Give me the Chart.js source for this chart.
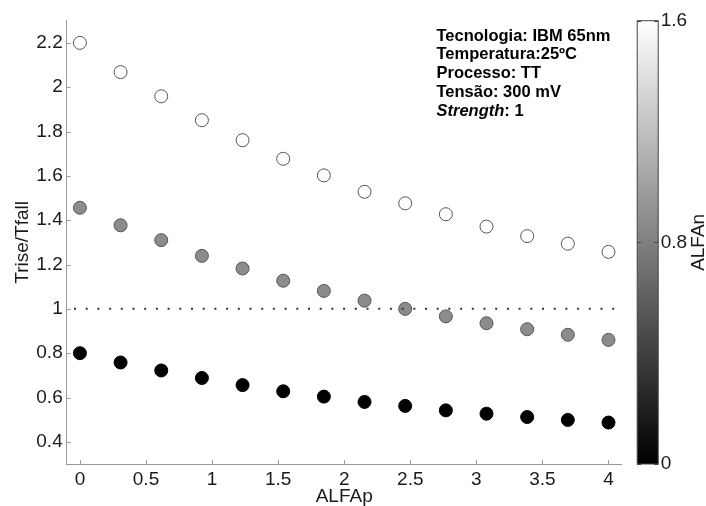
<!DOCTYPE html>
<html>
<head>
<meta charset="utf-8">
<script src="https://cdn.jsdelivr.net/npm/chart.js@4"></script>
<style>
  html, body { margin: 0; padding: 0; background: #fff; }
  #wrap { width: 706px; height: 506px; }
</style>
</head>
<body>
<div id="wrap"><canvas id="grafico" width="706" height="506"></canvas></div>
<script>
// --- dados ---
const alfaP = [0, 0.3077, 0.6154, 0.9231, 1.2308, 1.5385, 1.8462, 2.1538, 2.4615, 2.7692, 3.0769, 3.3846, 3.6923, 4.0];
const ratioAlfaN16 = [2.20, 2.068, 1.959, 1.851, 1.761, 1.677, 1.602, 1.528, 1.476, 1.427, 1.371, 1.328, 1.294, 1.257];
const ratioAlfaN08 = [1.456, 1.377, 1.310, 1.239, 1.182, 1.127, 1.081, 1.037, 1.000, 0.966, 0.935, 0.908, 0.883, 0.860];
const ratioAlfaN0 = [0.800, 0.758, 0.722, 0.688, 0.656, 0.628, 0.604, 0.580, 0.562, 0.542, 0.527, 0.512, 0.499, 0.487];
const alfaNValues = [1.6, 0.8, 0];
const refX = [-0.1, 4.05];
const refY = 1;

const xTicks = [0, 0.5, 1, 1.5, 2, 2.5, 3, 3.5, 4];
const yTicks = [0.4, 0.6, 0.8, 1, 1.2, 1.4, 1.6, 1.8, 2, 2.2];
const barTicks = [0, 0.8, 1.6];

const infoLinhas = ['Tecnologia: IBM 65nm', 'Temperatura:25ºC', 'Processo: TT', 'Tensão: 300 mV'];
const infoStrength = ['Strength', ': 1'];

const FONTE = 'Arial, "Liberation Sans", sans-serif';
const corTexto = '#1a1a1a';
const corEixo = '#9a9a9a';
const TAM = 19;

Chart.defaults.font.family = FONTE;
Chart.defaults.color = corTexto;

// cor da escala de cinza (0 = preto, 1.6 = branco)
function corAlfaN(v) {
    const g = Math.round(255 * v / 1.6);
    return `rgb(${g},${g},${g})`;
}

function montarPontos(ys) {
    return alfaP.map((x, i) => ({ x: x, y: ys[i] }));
}

const formatar = v => String(+(+v).toFixed(2));

const series = [ratioAlfaN16, ratioAlfaN08, ratioAlfaN0];
const datasets = [{
    label: 'ref',
    data: refX.map(x => ({ x: x, y: refY })),
    showLine: true,
    borderColor: '#333',
    borderWidth: 2,
    borderDash: [2, 9.7],
    borderDashOffset: 4.4,
    pointRadius: 0,
    fill: false
}];
series.forEach((ys, i) => {
    const cor = corAlfaN(alfaNValues[i]);
    datasets.push({
        label: 'ALFAn=' + alfaNValues[i],
        data: montarPontos(ys),
        backgroundColor: alfaNValues[i] === 0.8 ? '#8c8c8c' : cor,
        borderColor: alfaNValues[i] === 0 ? '#000' : '#555',
        borderWidth: 1,
        pointRadius: 6.5
    });
});

// ticks internos, barra de cores e texto informativo
const extras = {
    id: 'extras',
    afterDraw(chart) {
        const c = chart.ctx;
        const area = chart.chartArea;
        const sx = chart.scales.x, sy = chart.scales.y, sb = chart.scales.y2;

        c.save();
        c.strokeStyle = corEixo;
        c.lineWidth = 1;
        c.beginPath();
        xTicks.forEach(v => {
            const px = Math.round(sx.getPixelForValue(v)) + 0.5;
            c.moveTo(px, area.bottom);
            c.lineTo(px, area.bottom - 4);
        });
        yTicks.forEach(v => {
            const py = Math.round(sy.getPixelForValue(v)) + 0.5;
            c.moveTo(area.left, py);
            c.lineTo(area.left + 4, py);
        });
        c.stroke();

        // barra de cores
        const bx = area.right + 15.5, bw = 21;
        const top = sb.getPixelForValue(1.6), bot = sb.getPixelForValue(0);
        const grad = c.createLinearGradient(0, bot, 0, top);
        grad.addColorStop(0, corAlfaN(0));
        grad.addColorStop(1, corAlfaN(1.6));
        c.fillStyle = grad;
        c.fillRect(bx, top, bw, bot - top);
        c.strokeStyle = '#444';
        c.strokeRect(bx, top, bw, bot - top);
        c.beginPath();
        barTicks.forEach(v => {
            const py = Math.round(sb.getPixelForValue(v)) + 0.5;
            c.moveTo(bx, py); c.lineTo(bx + 4, py);
            c.moveTo(bx + bw, py); c.lineTo(bx + bw - 4, py);
        });
        c.stroke();

        // título da barra
        c.fillStyle = corTexto;
        c.font = TAM + 'px ' + FONTE;
        c.translate(699, (top + bot) / 2);
        c.rotate(-Math.PI / 2);
        c.textAlign = 'center';
        c.textBaseline = 'middle';
        c.fillText('ALFAn', 0, 0);
        c.restore();

        // texto informativo
        c.save();
        c.fillStyle = '#000';
        c.textAlign = 'left';
        c.textBaseline = 'alphabetic';
        const x0 = 436.5;
        let y0 = 40.7;
        c.font = 'bold 16.5px ' + FONTE;
        infoLinhas.forEach(t => {
            c.fillText(t, x0, y0);
            y0 += 18.7;
        });
        c.font = 'italic bold 16.5px ' + FONTE;
        c.fillText(infoStrength[0], x0, y0);
        const w = c.measureText(infoStrength[0]).width;
        c.font = 'bold 16.5px ' + FONTE;
        c.fillText(infoStrength[1], x0 + w, y0);
        c.restore();
    }
};

const ctx = document.getElementById('grafico').getContext('2d');
new Chart(ctx, {
    type: 'scatter',
    data: { datasets: datasets },
    options: {
        responsive: false,
        animation: false,
        layout: { padding: { top: 20.7, left: 0, right: 0, bottom: 0 } },
        plugins: { legend: { display: false }, tooltip: { enabled: false } },
        scales: {
            x: {
                type: 'linear',
                position: 'bottom',
                min: -0.1,
                max: 4.1,
                grid: { display: false, drawTicks: false },
                border: { display: true, color: corEixo, width: 1 },
                ticks: { font: { size: TAM }, color: corTexto, padding: 4, maxRotation: 0, callback: formatar },
                afterBuildTicks: s => { s.ticks = xTicks.map(v => ({ value: v })); },
                afterFit: s => { s.height = 42; },
                title: { display: true, text: 'ALFAp', font: { size: TAM }, color: corTexto, padding: { top: 0, bottom: -2 } }
            },
            y: {
                type: 'linear',
                position: 'left',
                min: 0.3,
                max: 2.3,
                grid: { display: false, drawTicks: false },
                border: { display: true, color: corEixo, width: 1 },
                ticks: { font: { size: TAM }, color: corTexto, padding: 4, callback: formatar },
                afterBuildTicks: s => { s.ticks = yTicks.map(v => ({ value: v })); },
                afterFit: s => { s.width = 66.7; },
                title: { display: true, text: 'Trise/Tfall', font: { size: TAM }, color: corTexto, padding: { top: 11, bottom: 0 } }
            },
            y2: {
                type: 'linear',
                position: 'right',
                min: 0,
                max: 1.6,
                grid: { display: true, drawOnChartArea: false, drawTicks: true, tickLength: 37, tickColor: 'rgba(0,0,0,0)' },
                border: { display: false },
                ticks: { font: { size: TAM }, color: corTexto, padding: 2, callback: formatar },
                afterBuildTicks: s => { s.ticks = barTicks.map(v => ({ value: v })); },
                afterFit: s => { s.width = 84.3; }
            }
        }
    },
    plugins: [extras]
});
</script>
</body>
</html>
